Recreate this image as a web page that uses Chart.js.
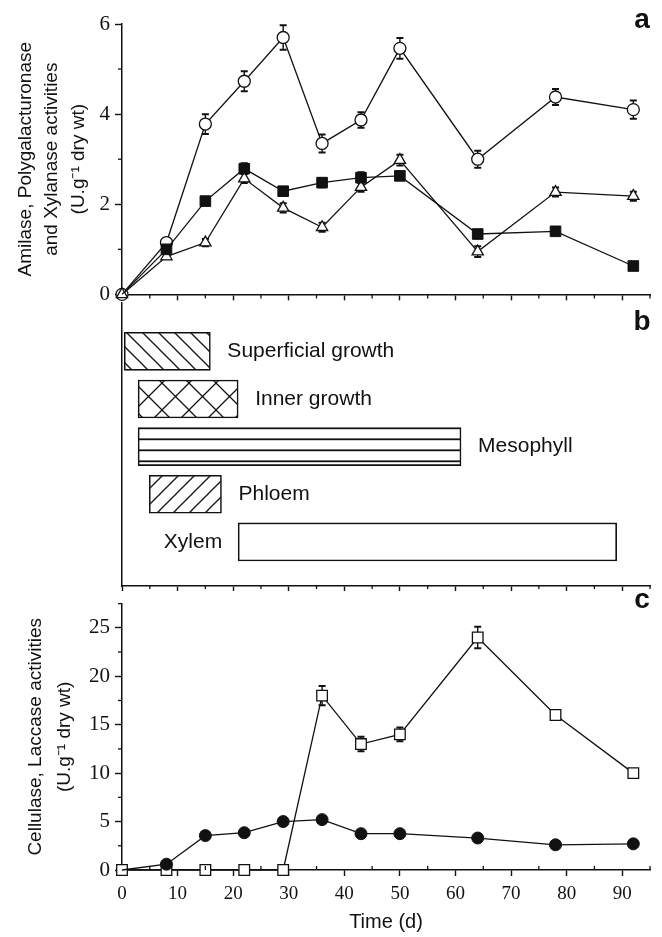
<!DOCTYPE html>
<html>
<head>
<meta charset="utf-8">
<script src="https://cdn.jsdelivr.net/npm/chart.js@4.4.1/dist/chart.umd.min.js"></script>
<style>
  html, body { margin: 0; padding: 0; background: #fff; }
  #wrap { position: relative; width: 662px; height: 937px; overflow: hidden; }
  canvas { position: absolute; left: 0; }
</style>
</head>
<body>
<div id="wrap">
  <canvas id="chartA" width="662" height="312" style="top:0px"></canvas>
  <canvas id="chartB" width="662" height="294" style="top:302px"></canvas>
  <canvas id="chartC" width="662" height="351" style="top:586px"></canvas>
</div>
<script>
// sampling days (x)
const days = [0, 8, 15, 22, 29, 36, 43, 50, 64, 78, 92];

// panel a : open circles, filled squares, open triangles (+ error bars)
const circlesA   = [0, 1.15, 3.78, 4.73, 5.70, 3.35, 3.87, 5.46, 3.00, 4.38, 4.10];
const circlesAErr = [0, 0.05, 0.22, 0.22, 0.27, 0.20, 0.17, 0.23, 0.19, 0.18, 0.20];
const squaresA   = [0, 1.00, 2.07, 2.79, 2.29, 2.48, 2.59, 2.63, 1.34, 1.40, 0.63];
const squaresAErr = [0, 0, 0.08, 0.12, 0.06, 0.10, 0.12, 0.08, 0, 0, 0];
const trianglesA = [0, 0.84, 1.15, 2.57, 1.92, 1.49, 2.38, 2.98, 0.95, 2.27, 2.18];
const trianglesAErr = [0, 0.05, 0.08, 0.10, 0.10, 0.10, 0.10, 0.12, 0.12, 0.10, 0.10];

// panel b : colonisation stages (start / end day)
const stageNames = ['Superficial growth', 'Inner growth', 'Mesophyll', 'Phloem', 'Xylem'];
const stageStart = [0.4, 2.9, 2.9, 4.9, 20.9];
const stageEnd   = [15.9, 20.9, 61, 17.9, 89];

// panel c : open squares, filled circles
const squaresC    = [0, 0, 0, 0, 0, 18.0, 13.0, 14.0, 24.0, 16.0, 10.0];
const squaresCErr = [0, 0, 0, 0, 0, 1.0, 0.75, 0.7, 1.1, 0.3, 0.2];
const circlesC    = [0, 0.6, 3.55, 3.85, 5.0, 5.2, 3.75, 3.75, 3.3, 2.6, 2.7];

const xTicksC = [0, 10, 20, 30, 40, 50, 60, 70, 80, 90];

const ink = '#111';
const sans = 'Liberation Sans, Arial, sans-serif';
const serif = 'Liberation Serif, Times New Roman, serif';
Chart.defaults.font.family = sans;
Chart.defaults.color = ink;

function pts(vals) {
  return days.map((d, i) => ({ x: d, y: vals[i] }));
}
// filled markers stay hidden at the origin, where the open ones sit on top
const hideOrigin = r => c => (c.dataIndex === 0 ? 0 : r);

// error bars drawn under the markers
const errorBars = {
  id: 'errorBars',
  beforeDatasetsDraw(chart) {
    const ctx = chart.ctx;
    const ys = chart.scales.y;
    ctx.save();
    ctx.strokeStyle = ink;
    chart.data.datasets.forEach((ds, i) => {
      if (!ds.errors) return;
      const meta = chart.getDatasetMeta(i);
      meta.data.forEach((pt, j) => {
        const e = ds.errors[j];
        if (!e) return;
        const v = ds.data[j].y;
        const top = ys.getPixelForValue(v + e);
        const bot = ys.getPixelForValue(v - e);
        ctx.lineWidth = 1.4;
        ctx.beginPath();
        ctx.moveTo(pt.x, top); ctx.lineTo(pt.x, bot);
        ctx.stroke();
        ctx.lineWidth = 2;
        ctx.beginPath();
        ctx.moveTo(pt.x - 3.5, top); ctx.lineTo(pt.x + 3.5, top);
        ctx.moveTo(pt.x - 3.5, bot); ctx.lineTo(pt.x + 3.5, bot);
        ctx.stroke();
      });
    });
    ctx.restore();
  }
};

// short minor ticks between the major ones
const minorTicks = {
  id: 'minorTicks',
  afterDraw(chart, args, opts) {
    const ctx = chart.ctx;
    const area = chart.chartArea;
    ctx.save();
    ctx.strokeStyle = ink;
    ctx.lineWidth = 1.3;
    (opts.items || []).forEach(it => {
      const s = chart.scales[it.axis];
      for (let v = s.min + it.step; v <= s.max + 1e-9; v += it.step) {
        const r = v / it.major;
        if (Math.abs(r - Math.round(r)) < 1e-6) continue;
        const p = s.getPixelForValue(v);
        ctx.beginPath();
        if (s.isHorizontal()) {
          ctx.moveTo(p, area.bottom); ctx.lineTo(p, area.bottom + it.len);
        } else {
          ctx.moveTo(area.left, p); ctx.lineTo(area.left - it.len, p);
        }
        ctx.stroke();
      }
    });
    ctx.restore();
  }
};

// panel letter (a, b, c)
const panelLetter = {
  id: 'panelLetter',
  afterDraw(chart, args, opts) {
    const ctx = chart.ctx;
    ctx.save();
    ctx.font = 'bold 28px ' + sans;
    ctx.fillStyle = ink;
    ctx.textAlign = 'center';
    ctx.textBaseline = 'alphabetic';
    ctx.fillText(opts.text, opts.x, opts.y);
    ctx.restore();
  }
};

// stage names next to the bars
const barLabels = {
  id: 'barLabels',
  afterDatasetsDraw(chart) {
    const ctx = chart.ctx;
    const meta = chart.getDatasetMeta(0);
    ctx.save();
    ctx.font = '21px ' + sans;
    ctx.fillStyle = ink;
    ctx.textBaseline = 'middle';
    meta.data.forEach((bar, i) => {
      if (i === stageNames.length - 1) {
        ctx.textAlign = 'right';
        ctx.fillText(stageNames[i], Math.min(bar.x, bar.base) - 16, bar.y);
      } else {
        ctx.textAlign = 'left';
        ctx.fillText(stageNames[i], Math.max(bar.x, bar.base) + 17, bar.y);
      }
    });
    ctx.restore();
  }
};

const fixWidth = w => s => { s.width = w; };
const fixHeight = h => s => { s.height = h; };

const axisX = (extra) => Object.assign({
  type: 'linear', min: 0, max: 95,
  ticks: { stepSize: 10, includeBounds: false, autoSkip: false, callback: () => '' },
  grid: { drawOnChartArea: false, drawTicks: true, tickLength: 6, tickColor: ink, tickWidth: 1.4 },
  border: { display: true, color: ink, width: 1.5 },
  afterFit: fixHeight(10)
}, extra);

// ---------- panel a ----------
new Chart(document.getElementById('chartA'), {
  type: 'line',
  data: {
    datasets: [
      { label: 'squares', data: pts(squaresA), errors: squaresAErr, pointStyle: 'rect', pointRadius: hideOrigin(7.5),
        backgroundColor: ink, borderColor: ink, borderWidth: 1.3, pointBorderWidth: 1, clip: false },
      { label: 'triangles', data: pts(trianglesA), errors: trianglesAErr, pointStyle: 'triangle', pointRadius: 6.5,
        backgroundColor: '#fff', borderColor: ink, borderWidth: 1.3, pointBorderWidth: 1.3, clip: false },
      { label: 'circles', data: pts(circlesA), errors: circlesAErr, pointStyle: 'circle', pointRadius: 6,
        backgroundColor: '#fff', borderColor: ink, borderWidth: 1.3, pointBorderWidth: 1.3, clip: false }
    ]
  },
  options: {
    responsive: false, animation: false,
    layout: { padding: { top: 24, right: 12, left: 0, bottom: 0 } },
    plugins: {
      legend: { display: false }, tooltip: { enabled: false },
      minorTicks: { items: [ { axis: 'x', step: 5, major: 10, len: 4 }, { axis: 'y', step: 1, major: 2, len: 4 } ] },
      panelLetter: { text: 'a', x: 642, y: 28 }
    },
    scales: {
      x: axisX({}),
      y: {
        min: 0, max: 6,
        ticks: { stepSize: 2, padding: 5, font: { family: serif, size: 21 }, color: ink },
        grid: { drawOnChartArea: false, drawTicks: true, tickLength: 7, tickColor: ink, tickWidth: 1.4 },
        border: { display: true, color: ink, width: 1.5 },
        title: {
          display: true,
          text: ['Amilase, Polygalacturonase', 'and Xylanase activities', '(U.g\u207B\u00B9 dry wt)'],
          font: { family: sans, size: 19, lineHeight: 1.4 },
          color: ink,
          padding: { top: 12, bottom: 0 }
        },
        afterFit: fixWidth(122)
      }
    }
  },
  plugins: [errorBars, minorTicks, panelLetter]
});

// ---------- panel b ----------
const ctxB = document.getElementById('chartB').getContext('2d');
function hatch(kind) {
  const size = kind === 'cross' ? 27 : (kind === 'horiz' ? 11 : 16);
  const c = document.createElement('canvas');
  c.width = kind === 'horiz' ? 8 : size;
  c.height = size;
  const g = c.getContext('2d');
  g.fillStyle = '#fff';
  g.fillRect(0, 0, c.width, c.height);
  g.strokeStyle = ink;
  g.lineWidth = kind === 'horiz' ? 1.8 : 1.3;
  g.beginPath();
  if (kind === 'back' || kind === 'cross') {
    for (let k = -1; k <= 1; k++) { g.moveTo(k * size - 2, -2); g.lineTo(k * size + size + 2, size + 2); }
  }
  if (kind === 'fwd' || kind === 'cross') {
    for (let k = -1; k <= 1; k++) { g.moveTo(k * size - 2, size + 2); g.lineTo(k * size + size + 2, -2); }
  }
  if (kind === 'horiz') { g.moveTo(0, 5.3); g.lineTo(c.width, 5.3); }
  g.stroke();
  return ctxB.createPattern(c, 'repeat');
}
const stageFills = [hatch('back'), hatch('cross'), hatch('horiz'), hatch('fwd'), '#fff'];

new Chart(ctxB, {
  type: 'bar',
  data: {
    datasets: [{
      label: 'stages',
      data: stageNames.map((n, i) => ({ x: [stageStart[i], stageEnd[i]], y: i + 1 })),
      backgroundColor: stageFills,
      borderColor: ink,
      borderWidth: 1.6,
      borderSkipped: false,
      barThickness: 38
    }]
  },
  options: {
    responsive: false, animation: false,
    indexAxis: 'y',
    layout: { padding: { top: 0, right: 12, left: 0, bottom: 0 } },
    plugins: {
      legend: { display: false }, tooltip: { enabled: false },
      minorTicks: { items: [ { axis: 'x', step: 5, major: 10, len: 3 } ] },
      panelLetter: { text: 'b', x: 642, y: 28 }
    },
    scales: {
      x: axisX({ grid: { drawOnChartArea: false, drawTicks: true, tickLength: 5, tickColor: ink, tickWidth: 1.4 } }),
      y: {
        type: 'linear', min: 0.39, max: 5.5, reverse: true,
        ticks: { display: false },
        grid: { display: false },
        border: { display: true, color: ink, width: 1.5 },
        afterFit: fixWidth(122)
      }
    }
  },
  plugins: [minorTicks, panelLetter, barLabels]
});

// ---------- panel c ----------
new Chart(document.getElementById('chartC'), {
  type: 'line',
  data: {
    datasets: [
      { label: 'circles', data: pts(circlesC), pointStyle: 'circle', pointRadius: hideOrigin(6),
        backgroundColor: ink, borderColor: ink, borderWidth: 1.3, pointBorderWidth: 1, clip: false },
      { label: 'squares', data: pts(squaresC), errors: squaresCErr, pointStyle: 'rect', pointRadius: 7.5,
        backgroundColor: '#fff', borderColor: ink, borderWidth: 1.3, pointBorderWidth: 1.3, clip: false }
    ]
  },
  options: {
    responsive: false, animation: false,
    layout: { padding: { top: 0, right: 12, left: 0, bottom: 0 } },
    plugins: {
      legend: { display: false }, tooltip: { enabled: false },
      minorTicks: { items: [ { axis: 'x', step: 5, major: 10, len: -4 }, { axis: 'y', step: 2.5, major: 5, len: 4 } ] },
      panelLetter: { text: 'c', x: 642, y: 22 }
    },
    scales: {
      x: {
        type: 'linear', min: 0, max: 95,
        afterBuildTicks: s => { s.ticks = xTicksC.map(v => ({ value: v })); },
        ticks: { padding: 7, autoSkip: false, maxRotation: 0, font: { family: serif, size: 19 }, color: ink },
        grid: { drawOnChartArea: false, drawTicks: true, tickLength: 6, tickColor: ink, tickWidth: 1.4 },
        border: { display: true, color: ink, width: 1.5 },
        title: { display: true, text: 'Time (d)', font: { family: sans, size: 20, lineHeight: 1.2 }, color: ink,
                 padding: { top: 0, bottom: 3 } },
        afterFit: fixHeight(67)
      },
      y: {
        min: 0, max: 27.5,
        ticks: { stepSize: 5, includeBounds: false, padding: 5, font: { family: serif, size: 21 }, color: ink },
        grid: { drawOnChartArea: false, drawTicks: true, tickLength: 7, tickColor: ink, tickWidth: 1.4 },
        border: { display: true, color: ink, width: 1.5 },
        title: {
          display: true,
          text: ['Cellulase, Laccase activities', '(U.g\u207B\u00B9 dry wt)'],
          font: { family: sans, size: 19, lineHeight: 1.55 },
          color: ink,
          padding: { top: 21, bottom: 0 }
        },
        afterFit: fixWidth(122)
      }
    }
  },
  plugins: [errorBars, minorTicks, panelLetter]
});
</script>
</body>
</html>
